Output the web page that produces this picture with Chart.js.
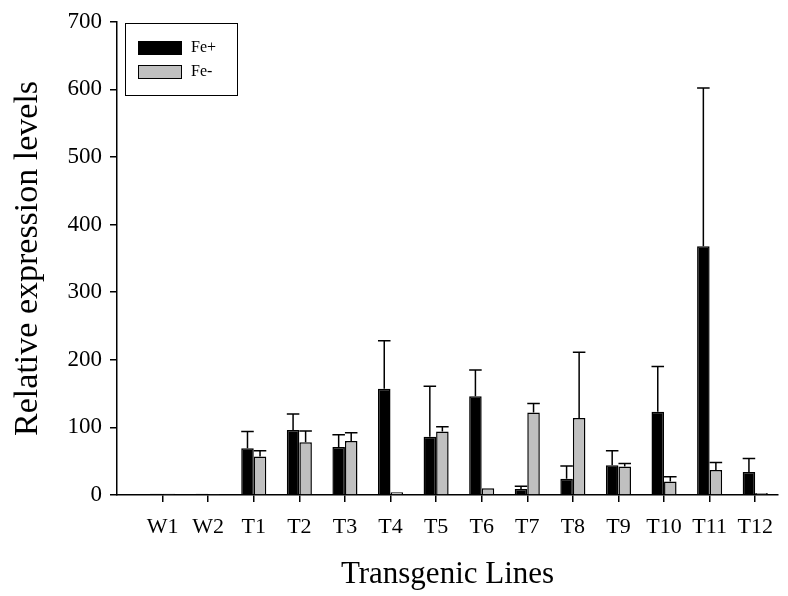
<!DOCTYPE html>
<html>
<head>
<meta charset="utf-8">
<script src="https://cdn.jsdelivr.net/npm/chart.js@4.4.1/dist/chart.umd.min.js"></script>
<style>
  html, body { margin: 0; padding: 0; background: #fff; }
  #wrap { width: 788px; height: 596px; }
</style>
</head>
<body>
<div id="wrap"><canvas id="exprChart" width="788" height="596"></canvas></div>
<script>
// --- data ---
const lines = ["W1", "W2", "T1", "T2", "T3", "T4", "T5", "T6", "T7", "T8", "T9", "T10", "T11", "T12"];
const fePlus = [2, 2, 69, 96, 71, 157, 86, 146, 9, 24, 44, 123, 368, 34];
const feMinus = [2, 1.5, 57, 78, 80, 4, 94, 10, 122, 114, 42, 20, 37, 3];
const fePlusErr = [0, 0, 25, 24, 18, 71, 75, 39, 4, 19, 21.5, 67, 234, 20];
const feMinusErr = [0, 0, 8.5, 16.5, 12, 0, 7, 0, 13.5, 97, 4.5, 7, 11, 0];
const yTicks = [0, 100, 200, 300, 400, 500, 600, 700];

const serif = "'Liberation Serif', 'DejaVu Serif', serif";

// upward error bars with a cap, drawn on top of the bars
const errorBars = {
  id: "errorBars",
  afterDatasetsDraw(chart) {
    const ctx = chart.ctx;
    const y = chart.scales.y;
    ctx.save();
    ctx.strokeStyle = "#000";
    ctx.lineWidth = 1.5;
    chart.data.datasets.forEach((ds, di) => {
      const meta = chart.getDatasetMeta(di);
      meta.data.forEach((bar, i) => {
        const err = ds.errors[i];
        if (!err) return;
        const top = y.getPixelForValue(ds.data[i].y + err);
        const base = y.getPixelForValue(ds.data[i].y);
        const half = bar.width / 2;
        ctx.beginPath();
        ctx.moveTo(bar.x, base);
        ctx.lineTo(bar.x, top);
        ctx.moveTo(bar.x - half, top);
        ctx.lineTo(bar.x + half, top);
        ctx.stroke();
      });
    });
    ctx.restore();
  }
};

// boxed legend in the upper left corner of the plot
const boxLegend = {
  id: "boxLegend",
  afterDraw(chart) {
    const ctx = chart.ctx;
    ctx.save();
    ctx.strokeStyle = "#000";
    ctx.lineWidth = 1;
    ctx.strokeRect(125.5, 23.5, 112, 72);
    ctx.font = "16px " + serif;
    ctx.textBaseline = "middle";
    chart.data.datasets.forEach((ds, i) => {
      const top = 41 + i * 24;
      ctx.fillStyle = ds.backgroundColor;
      ctx.fillRect(138, top, 44, 14);
      ctx.strokeRect(138.5, top + 0.5, 43, 13);
      ctx.fillStyle = "#000";
      ctx.fillText(ds.label, 191, top + 7);
    });
    ctx.restore();
  }
};

const ctx = document.getElementById("exprChart").getContext("2d");
new Chart(ctx, {
  type: "bar",
  data: {
    datasets: [
      {
        label: "Fe+",
        data: fePlus.map((v, i) => ({ x: i + 1, y: v })),
        errors: fePlusErr,
        backgroundColor: "#000000",
        borderColor: "#000000",
        borderWidth: 1.5,
      },
      {
        label: "Fe-",
        data: feMinus.map((v, i) => ({ x: i + 1, y: v })),
        errors: feMinusErr,
        backgroundColor: "#c0c0c0",
        borderColor: "#000000",
        borderWidth: 1.5,
      },
    ],
  },
  options: {
    responsive: false,
    animation: false,
    categoryPercentage: 0.55,
    barPercentage: 1,
    layout: { padding: { left: 0, top: 18, right: 10, bottom: 0 } },
    plugins: {
      legend: { display: false },
      tooltip: { enabled: false },
    },
    scales: {
      x: {
        type: "linear",
        offset: false,
        min: 0,
        max: 14.5,
        afterBuildTicks: (scale) => {
          scale.ticks = lines.map((l, i) => ({ value: i + 1 }));
        },
        afterFit: (scale) => { scale.height = 101; },
        ticks: {
          autoSkip: false,
          maxRotation: 0,
          color: "#000",
          padding: 12,
          font: { family: serif, size: 22 },
          callback: (v) => lines[v - 1] || "",
        },
        grid: { offset: false, drawOnChartArea: false, color: "#000", tickLength: 7, lineWidth: 1.5 },
        border: { color: "#000", width: 1.5 },
        title: {
          display: true,
          text: "Transgenic Lines",
          color: "#000",
          font: { family: serif, size: 31 },
          padding: { top: 0, bottom: 3 },
        },
      },
      y: {
        min: 0,
        max: 700,
        afterBuildTicks: (scale) => {
          scale.ticks = yTicks.map((v) => ({ value: v }));
        },
        afterFit: (scale) => { scale.width = 117; },
        ticks: {
          color: "#000",
          padding: 8,
          font: { family: serif, size: 23 },
        },
        grid: { drawOnChartArea: false, color: "#000", tickLength: 7, lineWidth: 1.5 },
        border: { color: "#000", width: 1.5 },
        title: {
          display: true,
          text: "Relative expression levels",
          color: "#000",
          font: { family: serif, size: 34 },
          padding: { top: 8, bottom: 0 },
        },
      },
    },
  },
  plugins: [errorBars, boxLegend],
});
</script>
</body>
</html>
